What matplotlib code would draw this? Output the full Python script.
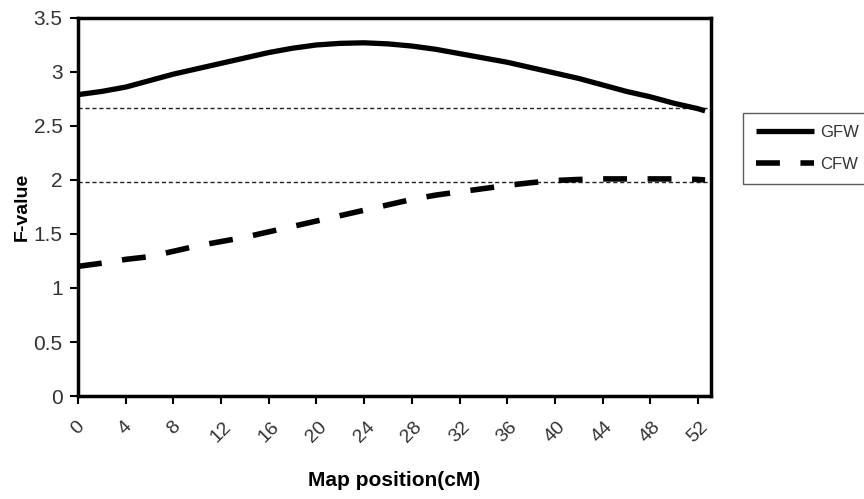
import matplotlib
matplotlib.use('Agg')
import matplotlib.pyplot as plt

plt.rcParams['font.family'] = ['Liberation Sans', 'DejaVu Sans']

# map positions (cM)
position = [0, 2, 4, 6, 8, 10, 12, 14, 16, 18, 20, 22, 24, 26, 28, 30,
            32, 34, 36, 38, 40, 42, 44, 46, 48, 50, 52, 52.6]

gfw = [2.79, 2.82, 2.86, 2.92, 2.98, 3.03, 3.08, 3.13, 3.18, 3.22, 3.25, 3.265,
       3.27, 3.26, 3.24, 3.21, 3.17, 3.13, 3.09, 3.04, 2.99, 2.94, 2.88, 2.82,
       2.77, 2.71, 2.66, 2.64]
cfw = [1.20, 1.23, 1.265, 1.29, 1.34, 1.39, 1.43, 1.47, 1.52, 1.57, 1.62, 1.67,
       1.72, 1.77, 1.82, 1.86, 1.89, 1.92, 1.95, 1.975, 1.995, 2.005, 2.01, 2.01,
       2.01, 2.01, 2.005, 2.0]

# significance thresholds
thr_gfw = 2.664
thr_cfw = 1.985

xticks = list(range(0, 53, 4))
yticks = [0, 0.5, 1, 1.5, 2, 2.5, 3, 3.5]
ytick_labels = ['0', '0.5', '1', '1.5', '2', '2.5', '3', '3.5']

fig = plt.figure(figsize=(8.64, 4.99), dpi=100)
ax = fig.add_axes([0.0903, 0.2064, 0.7327, 0.7576])

ax.axhline(thr_gfw, color='#222222', lw=1.0, ls=(0, (3, 2)))
ax.axhline(thr_cfw, color='#222222', lw=1.0, ls=(0, (3, 2)))

ax.plot(position, gfw, color='black', lw=3.8, label='GFW', solid_capstyle='butt')
ax.plot(position, cfw, color='black', lw=4.0, ls=(0, (4.3, 3.7)), label='CFW')

ax.set_xlim(0, 53.1)
ax.set_ylim(0, 3.5)
ax.set_xticks(xticks)
ax.set_xticklabels([str(x) for x in xticks], rotation=45, ha='center', fontsize=14)
ax.set_yticks(yticks)
ax.set_yticklabels(ytick_labels, fontsize=15)
ax.tick_params(axis='both', direction='out', length=6, width=1.5, colors='black')
ax.tick_params(axis='x', pad=10)
ax.tick_params(axis='y', pad=5)
ax.tick_params(axis='both', labelcolor='#333333')

for s in ax.spines.values():
    s.set_linewidth(2.5)

ax.set_xlabel('Map position(cM)', fontsize=15, fontweight='bold', labelpad=18)
ax.set_ylabel('F-value', fontsize=14, fontweight='bold', labelpad=2)

leg = fig.legend(loc='upper left', bbox_to_anchor=(0.86, 0.774), borderaxespad=0,
                 frameon=True, fancybox=False, edgecolor='#333333', fontsize=12,
                 handlelength=3.5, handletextpad=0.35, borderpad=0.75,
                 labelspacing=1.0)
leg.get_frame().set_linewidth(1.0)
for t in leg.get_texts():
    t.set_color('#333333')

fig.savefig('out.png', dpi=100)
